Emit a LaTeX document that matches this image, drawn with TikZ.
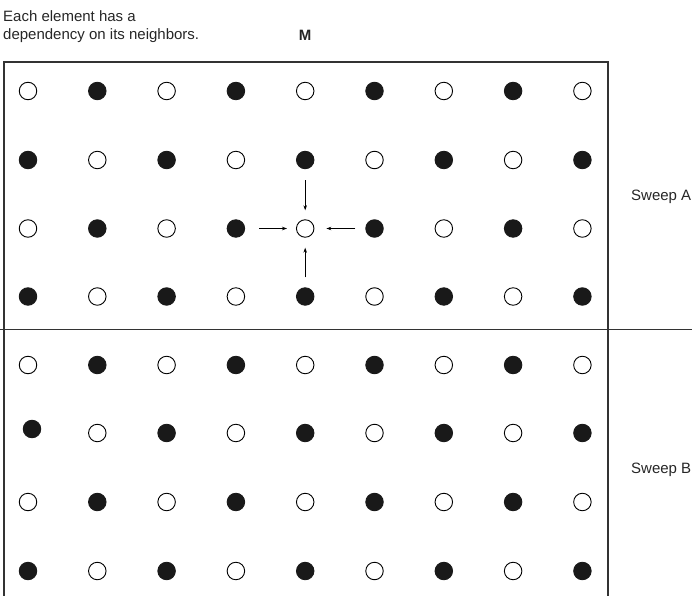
\documentclass[tikz,border=0pt]{standalone}
\usepackage{fontspec}
\setmainfont{Liberation Sans}
\usetikzlibrary{arrows.meta}
\begin{document}
\begin{tikzpicture}[x=1pt,y=-1pt,
  wdot/.style={circle,draw=black,fill=white,line width=0.9pt,minimum size=17.5pt,inner sep=0pt},
  bdot/.style={circle,draw=black!90,fill=black!90,line width=0.9pt,minimum size=17.5pt,inner sep=0pt},
  dep/.style={-{Stealth[length=5pt,width=3.5pt]},line width=0.7pt},
  lbl/.style={font=\fontsize{15}{18.3}\selectfont,inner sep=0pt,text=black!85}]
\useasboundingbox (0,0) rectangle (695,596);
\draw[line width=1.1pt,draw=black!80] (4,600) -- (4,62) -- (608,62) -- (608,600);
\draw[line width=1.1pt,draw=black!80] (0,329.5) -- (692,329.5);
\node[lbl,anchor=base west,align=left] (txt) at (3,40) {Each element has a\\dependency on its neighbors.};
\node[lbl,anchor=base,font=\fontsize{15}{16}\selectfont\bfseries] (m) at (305,40.5) {M};
\node[lbl,anchor=base west] (sa) at (631,200) {Sweep A};
\node[lbl,anchor=base west] (sb) at (631,473) {Sweep B};
\foreach \cx [count=\i from 0] in {28,97.3,166.6,235.9,305.2,374.5,443.8,513.1,582.4}{
  \foreach \cy [count=\j from 0] in {91,160,228.5,296.5,365,433,502,571}{
    \pgfmathtruncatemacro{\parity}{mod(\i+\j,2)}
    \ifnum\parity=0
      \node[wdot] (c\i-\j) at (\cx,\cy) {};
    \else
      \ifnum\i=0 \ifnum\j=5
        \node[bdot] (c\i-\j) at (32,429) {};
      \else
        \node[bdot] (c\i-\j) at (\cx,\cy) {};
      \fi\else
        \node[bdot] (c\i-\j) at (\cx,\cy) {};
      \fi
    \fi
  }
}
\draw[dep] ([yshift=-11pt]c4-1.south) -- ([yshift=9pt]c4-2.north);
\draw[dep] ([yshift=10pt]c4-3.north) -- ([yshift=-10pt]c4-2.south);
\draw[dep] ([xshift=14pt]c3-2.east) -- ([xshift=-9pt]c4-2.west);
\draw[dep] ([xshift=-10pt]c5-2.west) -- ([xshift=12pt]c4-2.east);
\end{tikzpicture}
\end{document}
